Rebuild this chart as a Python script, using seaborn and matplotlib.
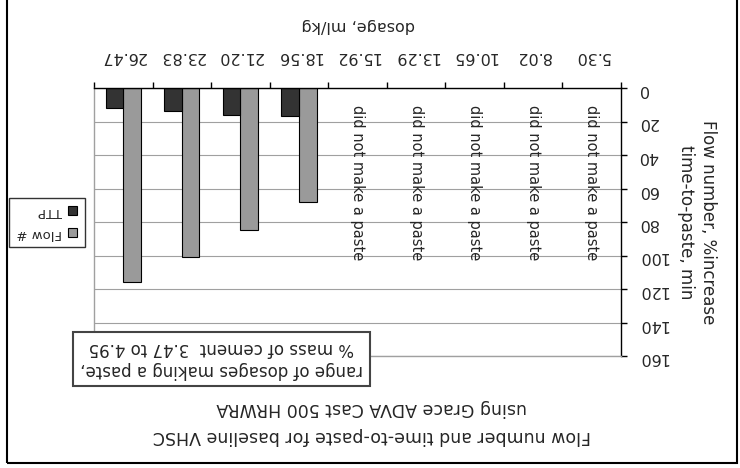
import matplotlib
matplotlib.use("Agg")
import matplotlib.pyplot as plt
from matplotlib.patches import Patch, Rectangle
import seaborn as sns
import pandas as pd
import numpy as np

# ---- data ----
dosages = ["5.30", "8.02", "10.65", "13.29", "15.92", "18.56", "21.20", "23.83", "26.47"]
paste_dosages = ["18.56", "21.20", "23.83", "26.47"]
flow_values = [68, 85, 101, 116]
ttp_values = [17, 16, 14, 12]
no_paste_dosages = ["5.30", "8.02", "10.65", "13.29", "15.92"]
y_ticks = [0, 20, 40, 60, 80, 100, 120, 140, 160]
series_names = ["Flow #", "TTP"]
colors = {"Flow #": "#9a9a9a", "TTP": "#333333"}

df = pd.DataFrame({
    "dosage": paste_dosages * 2,
    "series": [series_names[0]] * len(paste_dosages) + [series_names[1]] * len(paste_dosages),
    "value": flow_values + ttp_values,
})

sns.set_style("white")
plt.rcParams["font.family"] = ["DejaVu Sans"]

W, H = 740, 468
fig = plt.figure(figsize=(W / 100, H / 100), dpi=100)
ax = fig.add_axes([94 / W, (H - 356) / H, (621 - 94) / W, (356 - 88) / H])

sns.barplot(data=df, x="dosage", y="value", hue="series", order=dosages,
            hue_order=series_names, palette=colors, width=0.6,
            edgecolor="black", linewidth=0.8, errorbar=None, legend=False, ax=ax)

# chart is displayed rotated by 180 degrees
ax.set_xlim(len(dosages) - 0.5, -0.5)
ax.set_ylim(160, 0)
ax.set_xlabel("")
ax.set_ylabel("")

ax.xaxis.tick_top()
ax.yaxis.tick_right()
ax.set_yticks(y_ticks)
ax.set_yticklabels([str(v) for v in y_ticks])
ax.set_xticks(range(len(dosages)))
ax.set_xticklabels(dosages)
ax.set_xticks(np.arange(-0.5, len(dosages), 1.0), minor=True)

ax.tick_params(axis="x", which="major", length=0, pad=17, labelsize=11.5, labelrotation=180)
ax.tick_params(axis="x", which="minor", length=4, width=1, color="black", direction="out", top=True, bottom=False)
ax.tick_params(axis="y", which="major", length=4, width=1, color="black", direction="out", pad=8,
               labelsize=11.5, labelrotation=180, right=True, left=False)

ax.yaxis.grid(True, color="#a0a0a0", linewidth=0.8)
ax.xaxis.grid(False)
ax.set_axisbelow(True)
for side, col in [("top", "black"), ("right", "black"), ("left", "#a0a0a0"), ("bottom", "#a0a0a0")]:
    ax.spines[side].set_visible(True)
    ax.spines[side].set_color(col)
    ax.spines[side].set_linewidth(1.0)

for d in no_paste_dosages:
    ax.text(dosages.index(d), 10, "did not make a paste", rotation=270,
            ha="center", va="top", fontsize=10.5)

# titles and axis labels (rotated 180)
fig.text(372 / W, 1 - 436 / H, "Flow number and time-to-paste for baseline VHSC",
         rotation=180, ha="center", va="center", fontsize=12.5)
fig.text(372 / W, 1 - 408 / H, "using Grace ADVA Cast 500 HRWRA",
         rotation=180, ha="center", va="center", fontsize=12.5)
fig.text(358 / W, 1 - 25 / H, "dosage, ml/kg", rotation=180,
         ha="center", va="center", fontsize=11.5)
fig.text(697 / W, 1 - 222 / H, "Flow number, %increase\ntime-to-paste, min",
         rotation=270, ha="center", va="center", multialignment="center",
         fontsize=12, linespacing=1.3)

fig.text(221.5 / W, 1 - 359 / H, "range of dosages making a paste,\n% mass of cement  3.47 to 4.95",
         rotation=180, ha="center", va="center", multialignment="center", fontsize=12,
         linespacing=1.25,
         bbox=dict(boxstyle="square,pad=0.45", fc="white", ec="#444444", lw=1.5))

handles = [Patch(facecolor=colors[s], edgecolor="black", linewidth=0.8) for s in series_names[::-1]]
leg = fig.legend(handles=handles, labels=series_names[::-1], loc="center",
                 bbox_to_anchor=(47 / W, 1 - 222.5 / H), bbox_transform=fig.transFigure,
                 markerfirst=False, frameon=True, fancybox=False, edgecolor="black",
                 fontsize=9.5, handlelength=0.7, handleheight=0.7, handletextpad=0.45,
                 borderpad=0.55, labelspacing=0.65, borderaxespad=0)
leg.get_frame().set_linewidth(1.0)
for t in leg.get_texts():
    t.set_rotation(180)

fig.patches.append(Rectangle((7 / W, 1 - 463 / H), (737 - 7) / W, 2, transform=fig.transFigure,
                             fill=False, edgecolor="black", linewidth=1.5))

fig.savefig("out.png", dpi=100)
